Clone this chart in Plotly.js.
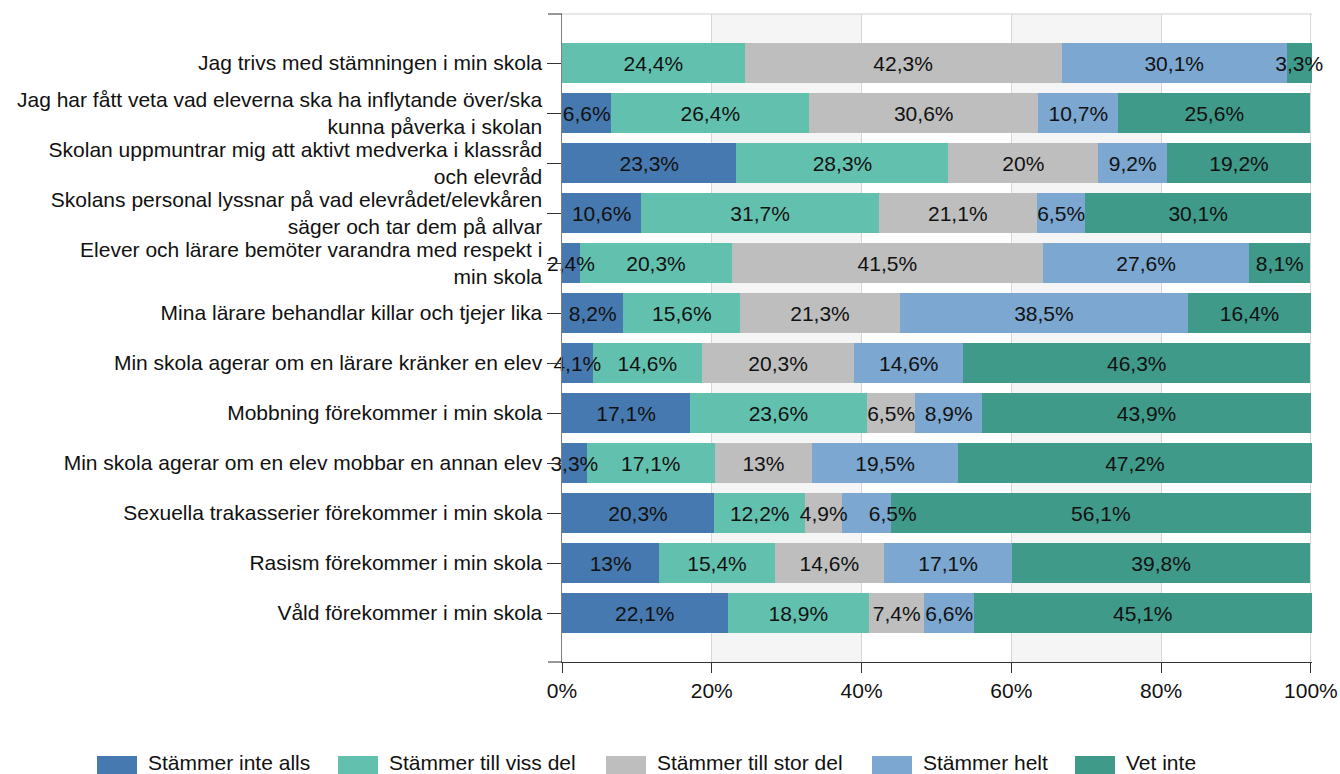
<!DOCTYPE html>
<html>
<head>
<meta charset="utf-8">
<script src="https://cdn.plot.ly/plotly-3.0.1.min.js"></script>
<style>html,body{margin:0;padding:0;background:#fff;}#chart{width:1340px;height:774px;}</style>
</head>
<body>
<div id="chart"></div>
<script>
const categories = [
  "Jag trivs med stämningen i min skola",
  "Jag har fått veta vad eleverna ska ha inflytande över/ska<br>kunna påverka i skolan",
  "Skolan uppmuntrar mig att aktivt medverka i klassråd<br>och elevråd",
  "Skolans personal lyssnar på vad elevrådet/elevkåren<br>säger och tar dem på allvar",
  "Elever och lärare bemöter varandra med respekt i<br>min skola",
  "Mina lärare behandlar killar och tjejer lika",
  "Min skola agerar om en lärare kränker en elev",
  "Mobbning förekommer i min skola",
  "Min skola agerar om en elev mobbar en annan elev",
  "Sexuella trakasserier förekommer i min skola",
  "Rasism förekommer i min skola",
  "Våld förekommer i min skola"
];
const seriesNames = ["Stämmer inte alls", "Stämmer till viss del", "Stämmer till stor del", "Stämmer helt", "Vet inte"];
const stammerInteAlls   = [0,    6.6,  23.3, 10.6, 2.4,  8.2,  4.1,  17.1, 3.3,  20.3, 13,   22.1];
const stammerTillVissDel= [24.4, 26.4, 28.3, 31.7, 20.3, 15.6, 14.6, 23.6, 17.1, 12.2, 15.4, 18.9];
const stammerTillStorDel= [42.3, 30.6, 20,   21.1, 41.5, 21.3, 20.3, 6.5,  13,   4.9,  14.6, 7.4];
const stammerHelt       = [30.1, 10.7, 9.2,  6.5,  27.6, 38.5, 14.6, 8.9,  19.5, 6.5,  17.1, 6.6];
const vetInte           = [3.3,  25.6, 19.2, 30.1, 8.1,  16.4, 46.3, 43.9, 47.2, 56.1, 39.8, 45.1];
const xTickVals = [0, 20, 40, 60, 80, 100];
const xTickText = ["0%", "20%", "40%", "60%", "80%", "100%"];

const seriesValues = [stammerInteAlls, stammerTillVissDel, stammerTillStorDel, stammerHelt, vetInte];
const colors = ["#4679b0", "#62c1ae", "#bebebe", "#7ba7d0", "#3f9a89"];
const FONT = "'Liberation Sans', Arial, sans-serif";
const FS = 21;
// label nudges (style only): "series,row" -> number of leading non-breaking spaces
const labelPadLeft = {"3,9": 9};

const labelText = (vals, i) => vals.map((v, j) => {
  if (!(v > 0)) return "";
  const pad = labelPadLeft[i + "," + j] || 0;
  return "\u00a0".repeat(pad) + String(v).replace(".", ",") + "%";
});

// coloured bars (no text)
const barTraces = seriesValues.map((vals, i) => ({
  type: "bar", orientation: "h", name: seriesNames[i],
  y: categories, x: vals, yaxis: "y",
  marker: {color: colors[i], line: {width: 0}},
  hoverinfo: "none", showlegend: false
}));
// same stacks on an overlaid axis, transparent, carrying the value labels above all bars
const textTraces = seriesValues.map((vals, i) => ({
  type: "bar", orientation: "h", name: seriesNames[i] + " (etikett)",
  y: categories, x: vals, yaxis: "y2",
  marker: {color: "rgba(0,0,0,0)", line: {width: 0}},
  text: labelText(vals, i),
  textposition: "inside", insidetextanchor: "middle", textangle: 0,
  constraintext: "none", cliponaxis: false,
  insidetextfont: {family: FONT, size: FS, color: "#111"},
  hoverinfo: "none", showlegend: false
}));

// layout geometry (pixels)
const W = 1340, H = 774, L = 562, R = 28, T = 14, B = 112;
const PW = W - L - R, PH = H - T - B;
const px = x => (x - L) / PW;
const py = y => (H - B - y) / PH;

const shapes = [
  {type: "rect", xref: "x", yref: "paper", x0: 20, x1: 40, y0: 0, y1: 1, fillcolor: "#f5f5f5", line: {width: 0}, layer: "below"},
  {type: "rect", xref: "x", yref: "paper", x0: 60, x1: 80, y0: 0, y1: 1, fillcolor: "#f5f5f5", line: {width: 0}, layer: "below"},
  {type: "line", xref: "paper", yref: "paper", x0: 0, x1: 1, y0: 1, y1: 1, line: {color: "#d0d0d0", width: 1}, layer: "below"},
  {type: "line", xref: "paper", yref: "paper", x0: px(548), x1: 0, y0: 1, y1: 1, line: {color: "#333", width: 1}},
  {type: "line", xref: "paper", yref: "paper", x0: px(548), x1: 0, y0: 0, y1: 0, line: {color: "#333", width: 1}}
];
const annotations = [];
const legendSwatchX = [97, 338, 606, 872, 1075];
seriesNames.forEach((name, i) => {
  const x0 = legendSwatchX[i];
  shapes.push({type: "rect", xref: "paper", yref: "paper", x0: px(x0), x1: px(x0 + 40), y0: py(774), y1: py(756),
    fillcolor: colors[i], line: {width: 0}});
  annotations.push({xref: "paper", yref: "paper", x: px(x0 + 49), y: py(762.5), xanchor: "left", yanchor: "middle",
    text: name, showarrow: false, font: {family: FONT, size: FS, color: "#111"}});
});

const yRange = [11.98, -0.98];
const layout = {
  width: W, height: H,
  margin: {l: L, r: R, t: T, b: B, pad: 0},
  barmode: "stack",
  bargap: 0.2,
  uniformtext: {mode: false},
  plot_bgcolor: "rgba(0,0,0,0)",
  paper_bgcolor: "#fff",
  font: {family: FONT, size: FS, color: "#111"},
  showlegend: false,
  xaxis: {
    range: [0, 100.15], tickvals: xTickVals, ticktext: xTickText,
    showgrid: true, gridcolor: "#d6d6d6", gridwidth: 1, zeroline: false,
    showline: true, linecolor: "#333", linewidth: 1,
    ticks: "outside", ticklen: 10, tickcolor: "#333",
    tickfont: {family: FONT, size: FS, color: "#111"}, fixedrange: true
  },
  yaxis: {
    type: "category", range: yRange,
    showgrid: false, zeroline: false,
    showline: true, linecolor: "#7f7f7f", linewidth: 1.5,
    ticks: "outside", ticklen: 14, tickcolor: "#333",
    tickfont: {family: FONT, size: FS, color: "#111"}, fixedrange: true
  },
  yaxis2: {
    type: "category", range: yRange, overlaying: "y", side: "left",
    showgrid: false, zeroline: false, showline: false, showticklabels: false, ticks: "",
    fixedrange: true
  },
  shapes: shapes,
  annotations: annotations
};

Plotly.newPlot("chart", barTraces.concat(textTraces), layout, {displayModeBar: false, staticPlot: true});
</script>
</body>
</html>
